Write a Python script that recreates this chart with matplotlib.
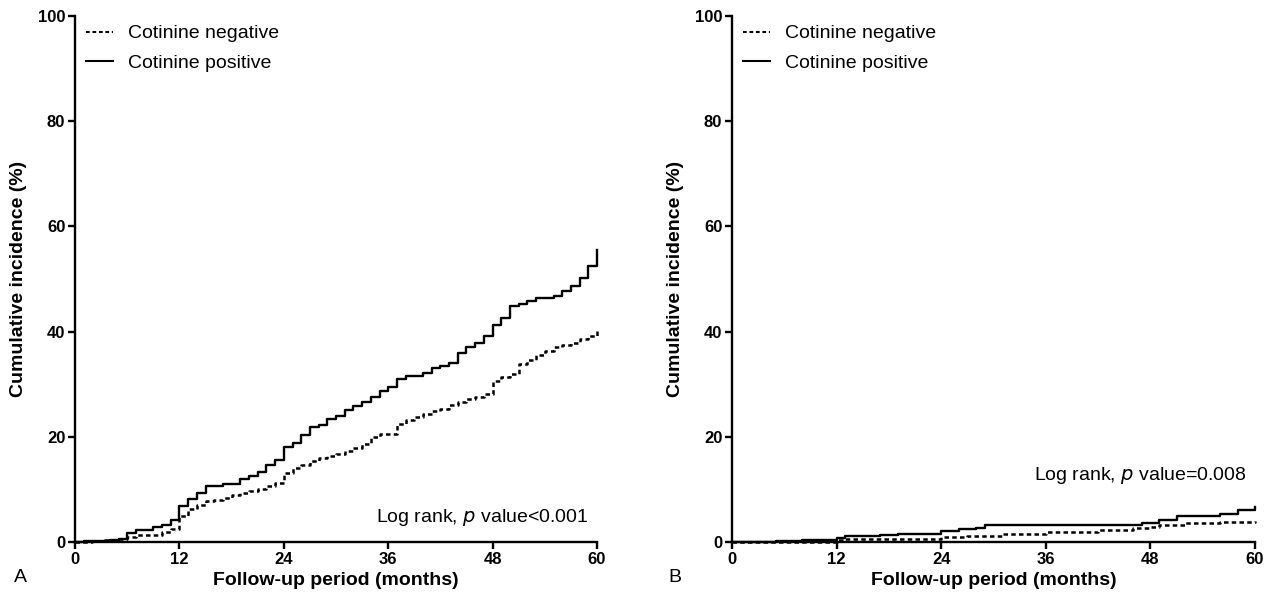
import matplotlib
matplotlib.use("Agg")
import matplotlib.pyplot as plt

plt.rcParams['font.family'] = ['Liberation Sans', 'DejaVu Sans']

# ---- data (months, cumulative incidence %) ----
a_pos_t = [0, 1, 3, 4, 5, 6, 7, 9, 10, 11, 12, 13, 14, 15, 17, 19, 20, 21, 22, 23, 24, 25, 26, 27,
           28, 29, 30, 31, 32, 33, 34, 35, 36, 37, 38, 40, 41, 42, 43, 44, 45, 46, 47, 48, 49, 50,
           51, 52, 53, 55, 56, 57, 58, 59, 60]
a_pos_v = [0, 0.1, 0.25, 0.45, 0.6, 1.7, 2.3, 2.8, 3.2, 4.2, 6.8, 8.2, 9.4, 10.6, 11.0, 12.0, 12.6,
           13.4, 14.7, 15.6, 18.0, 18.8, 20.4, 21.8, 22.3, 23.4, 23.9, 25.1, 25.8, 26.7, 27.6, 28.7,
           29.4, 30.9, 31.5, 32.2, 33.0, 33.4, 34.1, 36.0, 37.0, 37.8, 39.2, 41.3, 42.6, 44.8, 45.3,
           45.9, 46.4, 46.7, 47.8, 48.7, 50.2, 52.4, 55.5]
a_neg_t = [0, 2, 3, 4, 5, 6, 7, 8, 10, 11, 12, 13, 14, 15, 16, 17, 18, 19, 20, 21, 22, 23, 24, 25,
           26, 27, 28, 29, 30, 31, 32, 33, 34, 35, 37, 38, 39, 40, 41, 42, 43, 44, 45, 46, 47, 48,
           49, 50, 51, 52, 53, 54, 55, 56, 57, 58, 59, 60]
a_neg_v = [0, 0.15, 0.3, 0.45, 0.6, 0.9, 1.3, 1.4, 1.9, 2.4, 5.0, 6.3, 7.0, 7.7, 8.0, 8.4, 8.9,
           9.3, 9.7, 10.1, 10.7, 11.3, 13.2, 14.0, 14.7, 15.4, 15.9, 16.4, 16.8, 17.3, 17.9, 18.6,
           19.9, 20.5, 22.5, 23.1, 23.8, 24.4, 24.9, 25.3, 26.0, 26.6, 27.1, 27.6, 28.2, 30.7,
           31.3, 32.0, 33.9, 34.6, 35.5, 36.3, 37.1, 37.4, 37.8, 38.5, 39.2, 40.5]

b_pos_t = [0, 5, 8, 12, 13, 14, 17, 19, 24, 26, 28, 29, 47, 49, 51, 56, 58, 60]
b_pos_v = [0, 0.1, 0.3, 0.8, 1.1, 1.2, 1.4, 1.6, 2.0, 2.4, 2.7, 3.3, 3.7, 4.2, 4.9, 5.4, 6.1, 6.6]
b_neg_t = [0, 12, 13, 24, 27, 31, 36, 42, 46, 48, 49, 52, 56, 60]
b_neg_v = [0, 0.45, 0.6, 0.95, 1.2, 1.6, 1.9, 2.2, 2.6, 2.85, 3.3, 3.6, 3.8, 4.0]

x_ticks = [0, 12, 24, 36, 48, 60]
y_ticks = [0, 20, 40, 60, 80, 100]
labels = ["Cotinine negative", "Cotinine positive"]
panel_letters = ["A", "B"]
pvalue_texts = ["value<0.001", "value=0.008"]
pvalue_y = [4.6, 12.7]

fig = plt.figure(figsize=(12.7, 5.99), dpi=100)
ax_a = fig.add_axes([75 / 1270, 57 / 599, 522 / 1270, 526 / 599])
ax_b = fig.add_axes([732 / 1270, 57 / 599, 523 / 1270, 526 / 599])

panels = [(ax_a, a_neg_t, a_neg_v, a_pos_t, a_pos_v),
          (ax_b, b_neg_t, b_neg_v, b_pos_t, b_pos_v)]

for i, (ax, nt, nv, pt, pv) in enumerate(panels):
    ax.step(nt, nv, where='post', color='black', lw=1.8, linestyle=(0, (1.8, 1.3)),
            label=labels[0], clip_on=False)
    ax.step(pt, pv, where='post', color='black', lw=1.7, label=labels[1], clip_on=False)
    ax.set_xlim(0, 60)
    ax.set_ylim(0, 100)
    ax.set_xticks(x_ticks)
    ax.set_yticks(y_ticks)
    for s in ['top', 'right']:
        ax.spines[s].set_visible(False)
    for s in ['left', 'bottom']:
        ax.spines[s].set_linewidth(1.7)
    ax.tick_params(direction='out', length=5, width=1.7, labelsize=12, pad=2)
    for lab in ax.get_xticklabels() + ax.get_yticklabels():
        lab.set_fontweight('bold')
    ax.set_xlabel("Follow-up period (months)", fontsize=14, fontweight='bold', labelpad=4)
    ax.set_ylabel("Cumulative incidence (%)", fontsize=14, fontweight='bold', labelpad=8)
    leg = ax.legend(loc='upper left', bbox_to_anchor=(0.017, 0.987), frameon=False, fontsize=14,
                    handlelength=1.4, handletextpad=0.75, labelspacing=0.6, borderaxespad=0,
                    borderpad=0.1)
    for line in leg.get_lines():
        line.set_linewidth(1.5)
    ax.text(59, pvalue_y[i], "Log rank, $\\it{p}$ " + pvalue_texts[i], fontsize=14,
            ha='right', va='center')

fig.text(14 / 1270, 1 - 577 / 599, panel_letters[0], fontsize=14, ha='left', va='center')
fig.text(668 / 1270, 1 - 577 / 599, panel_letters[1], fontsize=14, ha='left', va='center')

fig.savefig("out.png", dpi=100)
